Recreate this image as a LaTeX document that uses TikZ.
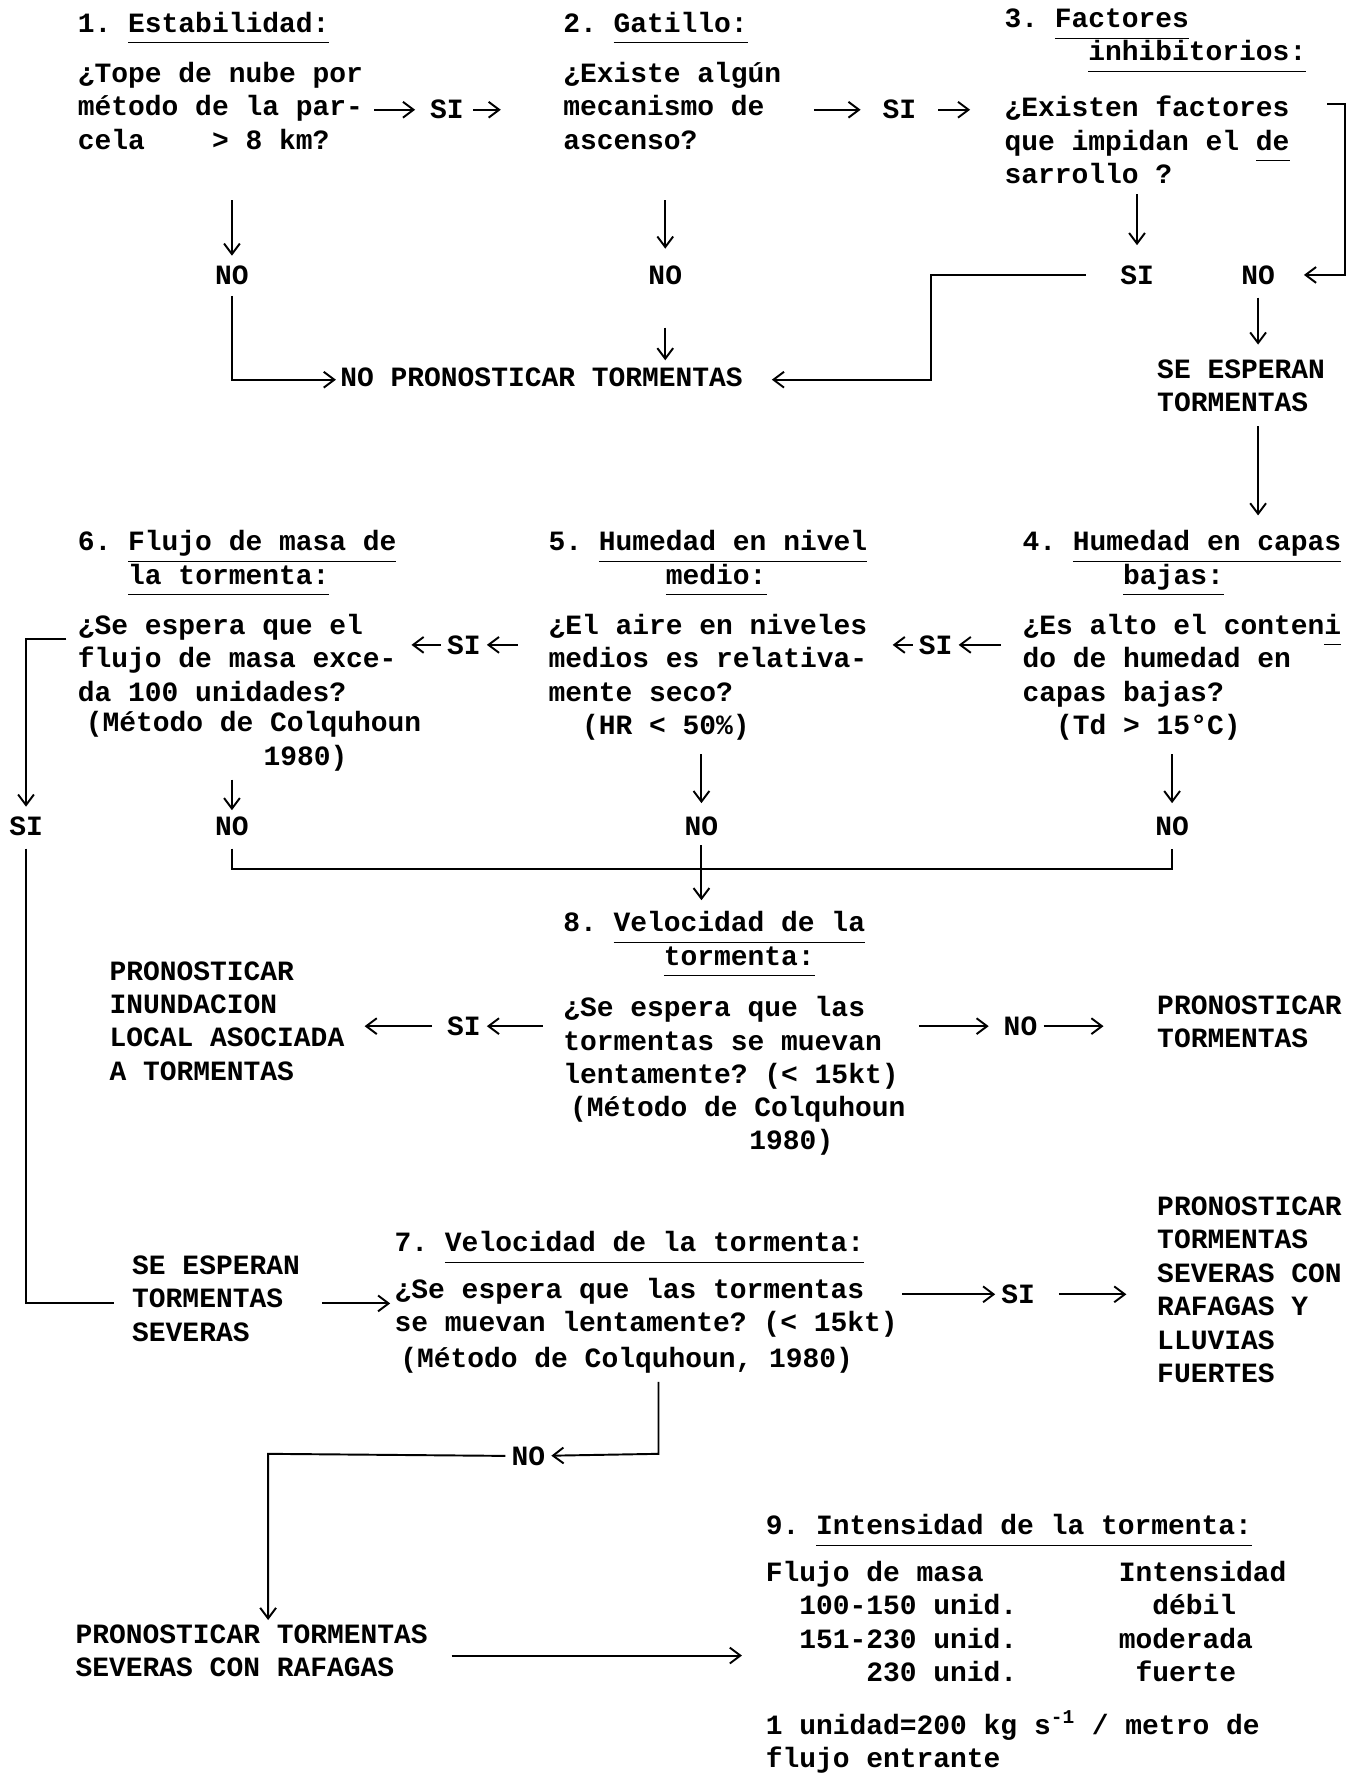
\documentclass[tikz,border=0pt]{standalone}
\usepackage{fontspec}
\setmainfont{Liberation Mono}
\usepackage{tikz}
\usetikzlibrary{arrows.meta}
\newcommand{\titul}[1]{\underline{\raisebox{0pt}[\height][0.28em]{#1}}}
\newcommand{\gap}[1]{\hspace*{#1\fontcharwd\font`\0}}

\begin{document}
\begin{tikzpicture}[x=0.02263cm,y=-0.02263cm,line width=1.1pt,
  >={Straight Barb[length=6pt,width=9pt]},
  every node/.style={font=\fontsize{15.9}{19}\selectfont\bfseries\frenchspacing},
  txt/.style={anchor=north west,inner sep=0pt,align=left,execute at begin node=\strut},
  lbl/.style={inner sep=3pt}]
  \useasboundingbox (0,0) rectangle (1192,1568);

  \node[txt] (t1) at (68,7) {1. \titul{Estabilidad:}};
  \node[txt] (q1) at (68,54) {¿Tope de nube por\\método de la par-\\cela\gap{4}> 8 km?};
  \node[txt] (t2) at (497,7) {2. \titul{Gatillo:}};
  \node[txt] (q2) at (497,54) {¿Existe algún\\mecanismo de\\ascenso?};
  \node[txt] (t3) at (887,7) {3. \titul{Factores}\\\gap{5}\titul{inhibitorios:}};
  \node[txt] (q3) at (887,84) {¿Existen factores\\que impidan el \titul{de}\\sarrollo ?};
  \node[lbl] (si1) at (395,97) {SI};
  \node[lbl] (si2) at (795,97) {SI};
  \node[lbl] (no1) at (205,243) {NO};
  \node[lbl] (no2) at (588,243) {NO};
  \node[lbl] (si3) at (1005,243) {SI};
  \node[lbl] (no3) at (1112,243) {NO};
  \node[txt] (npt) at (300,320) {NO PRONOSTICAR TORMENTAS};
  \node[txt] (sept) at (1022,317) {SE ESPERAN\\TORMENTAS};
  \coordinate (b3) at (1189,92);
  \coordinate (k3) at (823,290);

  \draw[->,shorten <=6pt,shorten >=5pt] (q1.east |- si1) -- (si1);
  \draw[->,shorten <=2pt,shorten >=35pt] (si1) -- (q2.west |- si1);
  \draw[->,shorten <=18pt,shorten >=9pt] (q2.east |- si2) -- (si2);
  \draw[->,shorten <=9pt,shorten >=19pt] (si2) -- (q3.west |- si2);
  \draw[->,shorten <=23pt,shorten >=2pt] (q1.south -| no1) -- (no1);
  \draw[->,shorten <=23pt,shorten >=6pt] (q2.south -| no2) -- (no2);
  \draw[->,shorten >=8pt] (q3.south -| si3) -- (si3);
  \draw[->,shorten <=21pt,shorten >=13pt] (q3.east |- b3) -- (b3) |- (no3);
  \draw[->,shorten <=16pt,shorten >=16pt] (si3) -| (k3) |- (npt);
  \draw[->,shorten <=3pt,shorten >=2pt] (no1) |- (npt);
  \draw[->,shorten <=21pt,shorten >=1pt] (no2) -- (no2 |- npt.north);
  \draw[->,shorten <=4pt,shorten >=8pt] (no3) -- (no3 |- sept.north);

  \node[txt] (t4) at (903,468) {4. \titul{Humedad en capas}\\\gap{6}\titul{bajas:}};
  \node[txt] (q4) at (903,542) {¿Es alto el conten\titul{i}\\do de humedad en\\capas bajas?\\\gap{2}(Td > 15°C)};
  \node[txt] (t5) at (484,468) {5. \titul{Humedad en nivel}\\\gap{7}\titul{medio:}};
  \node[txt] (q5) at (484,542) {¿El aire en niveles\\medios es relativa-\\mente seco?\\\gap{2}(HR < 50\%)};
  \node[txt] (t6) at (68,468) {6. \titul{Flujo de masa de}\\\gap{3}\titul{la tormenta:}};
  \node[txt] (q6) at (68,542) {¿Se espera que el\\flujo de masa exce-\\da 100 unidades?};
  \node[txt] (m6) at (75,628) {(Método de Colquhoun\\\gap{10.6}1980)};
  \node[lbl] (si4) at (827,570) {SI};
  \node[lbl] (si5) at (410,570) {SI};
  \node[lbl] (si6) at (23,730) {SI};
  \node[lbl] (no6) at (205,730) {NO};
  \node[lbl] (no5) at (620,730) {NO};
  \node[lbl] (no4) at (1036,730) {NO};
  \coordinate (c6) at (23,565);
  \coordinate (j5) at (620,768);

  \draw[->,shorten <=2pt,shorten >=8pt] (no3 |- sept.south) -- (no3 |- t4.north);
  \draw[->,shorten <=12pt] (q4.west |- si4) -- (si4);
  \draw[->,shorten >=14pt] (si4) -- (q5.east |- si4);
  \draw[->,shorten <=17pt] (q5.west |- si5) -- (si5);
  \draw[->,shorten >=8pt] (si5) -- (q6.east |- si5);
  \draw[->,shorten <=6pt,shorten >=2pt] (q6.west |- c6) -- (c6) -- (si6);
  \draw[->,shorten <=2pt] (m6.south -| no6) -- (no6);
  \draw[->,shorten <=5pt,shorten >=4pt] (q5.south -| no5) -- (no5);
  \draw[->,shorten <=5pt,shorten >=4pt] (q4.south -| no4) -- (no4);
  \draw[shorten <=4pt,shorten >=4pt] (no6) |- (j5) -| (no4);

  \node[txt] (t8) at (497,805) {8. \titul{Velocidad de la}\\\gap{6}\titul{tormenta:}};
  \node[txt] (q8) at (497,880) {¿Se espera que las\\tormentas se muevan\\lentamente? (< 15kt)};
  \node[txt] (m8) at (503,968) {(Método de Colquhoun\\\gap{10.7}1980)};
  \node[txt] (pil) at (96,849) {PRONOSTICAR\\INUNDACION\\LOCAL ASOCIADA\\A TORMENTAS};
  \node[txt] (pt) at (1022,879) {PRONOSTICAR\\TORMENTAS};
  \node[lbl] (si8) at (410,907) {SI};
  \node[lbl] (no8) at (902,907) {NO};

  \draw[->,shorten <=2pt,shorten >=6pt] (no5) -- (no5 |- t8.north);
  \draw[->,shorten <=11pt] (q8.west |- si8) -- (si8);
  \draw[->,shorten <=5pt,shorten >=11pt] (si8) -- (pil.east |- si8);
  \draw[->,shorten <=11pt,shorten >=5pt] (q8.east |- no8) -- (no8);
  \draw[->,shorten >=30pt] (no8) -- (pt.west |- no8);

  \node[txt] (t7) at (348,1085) {7. \titul{Velocidad de la tormenta:}};
  \node[txt] (q7) at (348,1129) {¿Se espera que las tormentas\\se muevan lentamente? (< 15kt)};
  \node[txt] (m7) at (353,1187) {(Método de Colquhoun, 1980)};
  \node[txt] (ses) at (116,1109) {SE ESPERAN\\TORMENTAS\\SEVERAS};
  \node[txt] (pts) at (1022,1057) {PRONOSTICAR\\TORMENTAS\\SEVERAS CON\\RAFAGAS Y\\LLUVIAS\\FUERTES};
  \node[lbl] (si7) at (900,1144) {SI};
  \node[lbl] (no7) at (467,1287) {NO};
  \node[txt] (psr) at (66,1435) {PRONOSTICAR TORMENTAS\\SEVERAS CON RAFAGAS};
  \coordinate (c7) at (582,1285);
  \coordinate (c7b) at (237,1285);

  \node[txt] (t9) at (676,1335) {9. \titul{Intensidad de la tormenta:}};
  \node[txt] (tab9a) at (676,1379) {Flujo de masa\\\gap{2}100-150 unid.\\\gap{2}151-230 unid.\\\gap{6}230 unid.};
  \node[txt] (tab9b) at (988,1379) {Intensidad\\\gap{2}débil\\moderada\\\gap{1}fuerte};
  \node[txt] (note9) at (676,1511) {1 unidad=200 kg s\textsuperscript{-1} / metro de\\flujo entrante};

  \draw[shorten <=4pt,shorten >=10pt] (si6) |- (ses);
  \draw[->,shorten <=12pt,shorten >=2pt] (ses) -- (q7.west |- ses);
  \draw[->,shorten <=2pt] (q7.east |- si7) -- (si7);
  \draw[->,shorten <=10pt,shorten >=17pt] (si7) -- (pts.west |- si7);
  \draw[->,shorten <=2pt] (m7.south -| c7) -- (c7) -- (no7);
  \draw[->,shorten >=2pt] (no7) -- (c7b) -- (c7b |- psr.north);
  \draw[->,shorten <=13pt,shorten >=13pt] (psr) -- (tab9a.west |- psr);
\end{tikzpicture}
\end{document}
